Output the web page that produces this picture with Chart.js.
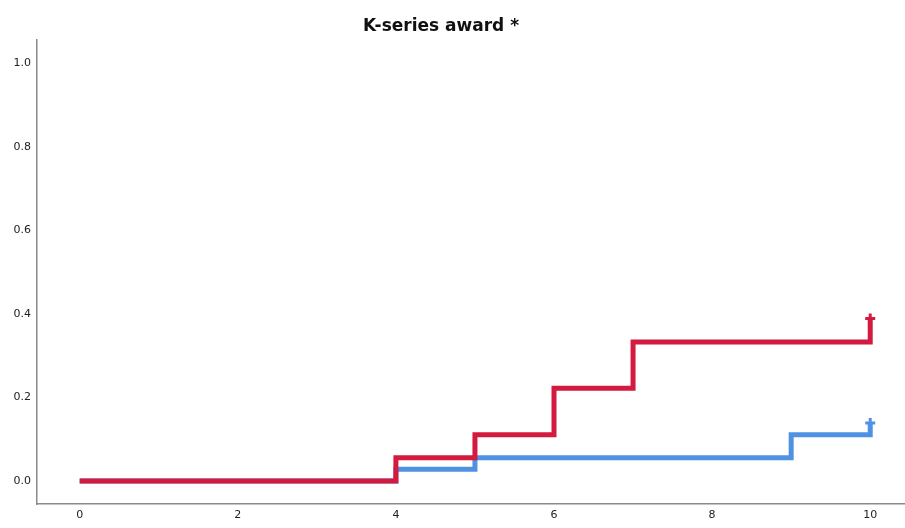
<!DOCTYPE html>
<html>
<head>
<meta charset="utf-8">
<script src="https://cdn.jsdelivr.net/npm/chart.js@4"></script>
<style>
  html, body { margin: 0; padding: 0; background: #ffffff; }
  #wrap { width: 905px; height: 528px; position: relative; }
</style>
</head>
<body>
<div id="wrap"><canvas id="c" width="905" height="528"></canvas></div>
<script>
const chartTitle = 'K-series award *';
const redTimes  = [0, 4, 5, 6, 7, 10];
const redCum    = [0, 0.056, 0.111, 0.222, 0.333, 0.389];
const blueTimes = [0, 4, 5, 9, 10];
const blueCum   = [0, 0.028, 0.056, 0.111, 0.139];
const xTicks = [0, 2, 4, 6, 8, 10];
const yTicks = [0, 0.2, 0.4, 0.6, 0.8, 1.0];

const RED = '#d41a3e';
const BLUE = '#4f92e3';

function toPoints(t, v) { return t.map((x, i) => ({ x: x, y: v[i] })); }

function lastOnly(val) {
  return ctx => (ctx.dataIndex === ctx.dataset.data.length - 1 ? val : 0);
}

const titlePlugin = {
  id: 'customTitle',
  afterDraw(chart) {
    const ctx = chart.ctx;
    ctx.save();
    ctx.font = 'bold 17px "DejaVu Sans", sans-serif';
    ctx.fillStyle = '#111111';
    ctx.textAlign = 'center';
    ctx.textBaseline = 'middle';
    ctx.fillText(chartTitle, 441, 27);
    ctx.restore();
  }
};

new Chart(document.getElementById('c'), {
  type: 'line',
  data: {
    datasets: [
      {
        label: 'red',
        data: toPoints(redTimes, redCum),
        stepped: 'before',
        borderColor: RED,
        backgroundColor: RED,
        borderWidth: 5,
        borderCapStyle: 'butt',
        borderJoinStyle: 'miter',
        pointStyle: 'cross',
        pointRadius: lastOnly(5),
        pointBorderWidth: 3,
        pointBorderColor: RED,
        pointHoverRadius: 0,
        fill: false
      },
      {
        label: 'blue',
        data: toPoints(blueTimes, blueCum),
        stepped: 'before',
        borderColor: BLUE,
        backgroundColor: BLUE,
        borderWidth: 5,
        borderCapStyle: 'butt',
        borderJoinStyle: 'miter',
        pointStyle: 'cross',
        pointRadius: lastOnly(5),
        pointBorderWidth: 3,
        pointBorderColor: BLUE,
        pointHoverRadius: 0,
        fill: false
      }
    ]
  },
  plugins: [titlePlugin],
  options: {
    responsive: false,
    animation: false,
    layout: { autoPadding: false, padding: { left: 0, right: 0, top: 40, bottom: 0 } },
    plugins: {
      legend: { display: false },
      tooltip: { enabled: false },
      title: { display: false }
    },
    scales: {
      x: {
        type: 'linear',
        min: -0.54,
        max: 10.44,
        grid: { display: false, drawTicks: false },
        border: { display: true, color: '#8a8a8a', width: 1.5 },
        ticks: {
          padding: 5,
          color: '#222222',
          font: { family: 'DejaVu Sans, sans-serif', size: 11 },
          maxRotation: 0,
          callback: v => String(v)
        },
        afterBuildTicks: axis => { axis.ticks = xTicks.map(v => ({ value: v })); },
        afterFit: axis => { axis.height = 24; }
      },
      y: {
        type: 'linear',
        min: -0.055,
        max: 1.056,
        grid: { display: false, drawTicks: false },
        border: { display: true, color: '#8a8a8a', width: 1.5 },
        ticks: {
          padding: 6,
          color: '#222222',
          font: { family: 'DejaVu Sans, sans-serif', size: 11 },
          callback: v => Number(v).toFixed(1)
        },
        afterBuildTicks: axis => { axis.ticks = yTicks.map(v => ({ value: v })); },
        afterFit: axis => { axis.width = 37; }
      }
    }
  }
});
</script>
</body>
</html>
